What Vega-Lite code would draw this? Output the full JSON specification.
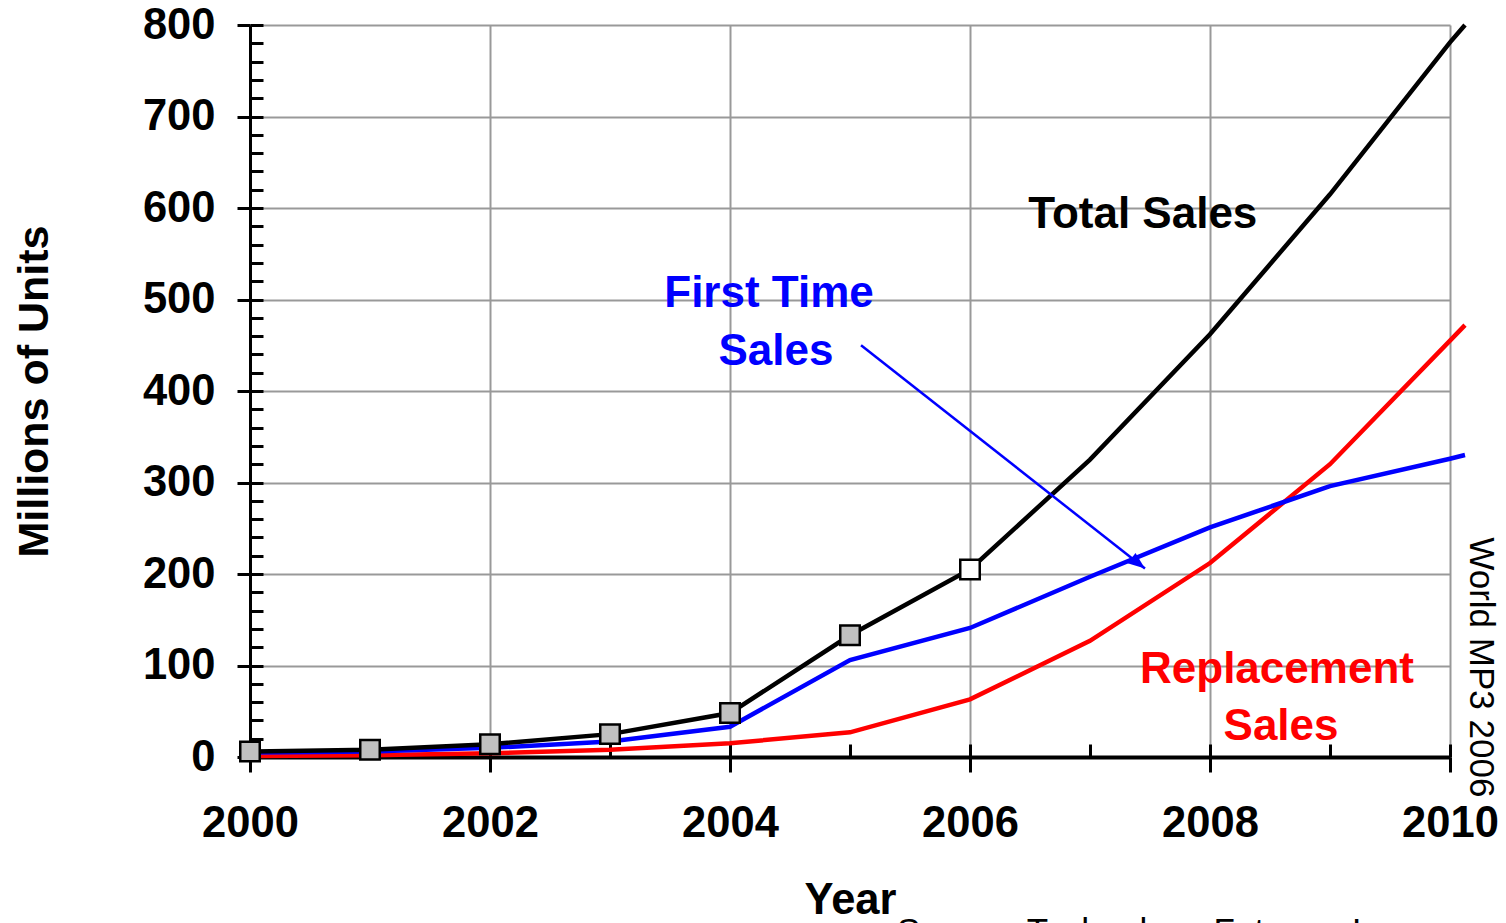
{
  "$schema": "https://vega.github.io/schema/vega-lite/v6.json",
  "width": 1200,
  "height": 732,
  "autosize": {"type": "none"},
  "padding": {"left": 250, "top": 25, "right": 56, "bottom": 166},
  "background": "white",
  "config": {"font": "Liberation Sans", "view": {"stroke": null}},
  "datasets": {
    "sales": [
      {"year": 2000, "series": "Replacement Sales", "units": 1},
      {"year": 2001, "series": "Replacement Sales", "units": 2},
      {"year": 2002, "series": "Replacement Sales", "units": 4},
      {"year": 2003, "series": "Replacement Sales", "units": 8},
      {"year": 2004, "series": "Replacement Sales", "units": 15},
      {"year": 2005, "series": "Replacement Sales", "units": 27},
      {"year": 2006, "series": "Replacement Sales", "units": 63},
      {"year": 2007, "series": "Replacement Sales", "units": 127},
      {"year": 2008, "series": "Replacement Sales", "units": 212},
      {"year": 2009, "series": "Replacement Sales", "units": 320},
      {"year": 2010, "series": "Replacement Sales", "units": 455},
      {"year": 2010.125, "series": "Replacement Sales", "units": 472},
      {"year": 2000, "series": "First Time Sales", "units": 5},
      {"year": 2001, "series": "First Time Sales", "units": 6},
      {"year": 2002, "series": "First Time Sales", "units": 10},
      {"year": 2003, "series": "First Time Sales", "units": 17},
      {"year": 2004, "series": "First Time Sales", "units": 33},
      {"year": 2005, "series": "First Time Sales", "units": 106},
      {"year": 2006, "series": "First Time Sales", "units": 141},
      {"year": 2007, "series": "First Time Sales", "units": 197},
      {"year": 2008, "series": "First Time Sales", "units": 251},
      {"year": 2009, "series": "First Time Sales", "units": 296},
      {"year": 2010, "series": "First Time Sales", "units": 326},
      {"year": 2010.125, "series": "First Time Sales", "units": 330},
      {"year": 2000, "series": "Total Sales", "units": 6},
      {"year": 2001, "series": "Total Sales", "units": 8},
      {"year": 2002, "series": "Total Sales", "units": 14},
      {"year": 2003, "series": "Total Sales", "units": 25},
      {"year": 2004, "series": "Total Sales", "units": 48},
      {"year": 2005, "series": "Total Sales", "units": 133},
      {"year": 2006, "series": "Total Sales", "units": 205},
      {"year": 2007, "series": "Total Sales", "units": 325},
      {"year": 2008, "series": "Total Sales", "units": 462},
      {"year": 2009, "series": "Total Sales", "units": 615},
      {"year": 2010, "series": "Total Sales", "units": 781},
      {"year": 2010.125, "series": "Total Sales", "units": 800}
    ],
    "markers": [
      {"year": 2000, "units": 6, "status": "actual"},
      {"year": 2001, "units": 8, "status": "actual"},
      {"year": 2002, "units": 14, "status": "actual"},
      {"year": 2003, "units": 25, "status": "actual"},
      {"year": 2004, "units": 48, "status": "actual"},
      {"year": 2005, "units": 133, "status": "actual"},
      {"year": 2006, "units": 205, "status": "current"}
    ],
    "seriesLabels": [
      {"year": 2007.44, "units": 578, "text": "Total Sales", "series": "Total Sales"},
      {"year": 2004.325, "units": 492, "text": "First Time", "series": "First Time Sales"},
      {"year": 2004.383, "units": 428, "text": "Sales", "series": "First Time Sales"},
      {"year": 2008.558, "units": 81, "text": "Replacement", "series": "Replacement Sales"},
      {"year": 2008.592, "units": 19, "text": "Sales", "series": "Replacement Sales"}
    ],
    "arrow": [
      {"year": 2005.092, "units": 450, "year2": 2007.458, "units2": 206}
    ],
    "note": [
      {"year": 2010.258, "units": 98, "text": "World MP3 2006"}
    ],
    "source": [
      {"year": 2005.392, "units": -203, "text": "Source: Technology Futures, Inc."}
    ]
  },
  "layer": [
    {
      "data": {"name": "sales"},
      "mark": {"type": "line", "strokeWidth": 4.5, "clip": false},
      "encoding": {
        "x": {
          "field": "year", "type": "quantitative",
          "scale": {"domain": [2000, 2010], "nice": false, "zero": false},
          "axis": {
            "orient": "bottom",
            "values": [2000, 2002, 2004, 2006, 2008, 2010],
            "format": "d",
            "tickSize": 15, "tickWidth": 3, "tickColor": "black",
            "domainColor": "black", "domainWidth": 4,
            "grid": true, "gridColor": "#999999", "gridWidth": 2,
            "labelFont": "Liberation Sans", "labelFontSize": 43.5, "labelFontWeight": "bold",
            "labelColor": "black", "labelPadding": 30, "labelFlush": false, "labelOverlap": false,
            "title": "Year", "titleFont": "Liberation Sans", "titleFontSize": 43.5,
            "titleFontWeight": "bold", "titleColor": "black", "titlePadding": 35
          }
        },
        "y": {
          "field": "units", "type": "quantitative",
          "scale": {"domain": [0, 800], "nice": false},
          "axis": {
            "orient": "left",
            "values": [0, 100, 200, 300, 400, 500, 600, 700, 800],
            "tickSize": 13, "tickWidth": 3, "tickColor": "black",
            "domainColor": "black", "domainWidth": 3,
            "grid": true, "gridColor": "#999999", "gridWidth": 2,
            "labelFont": "Liberation Sans", "labelFontSize": 43.5, "labelFontWeight": "bold",
            "labelColor": "black", "labelPadding": 22, "labelFlush": false, "labelOverlap": false,
            "title": "Millions of Units", "titleFont": "Liberation Sans", "titleFontSize": 43,
            "titleFontWeight": "bold", "titleColor": "black", "titlePadding": 86
          }
        },
        "color": {
          "field": "series", "type": "nominal",
          "scale": {"domain": ["Replacement Sales", "First Time Sales", "Total Sales"], "range": ["#FF0000", "#0000FF", "#000000"]},
          "legend": null
        }
      }
    },
    {
      "data": {"name": "markers"},
      "mark": {"type": "point", "shape": "square", "filled": true, "size": 380, "stroke": "black", "strokeWidth": 2.5, "opacity": 1},
      "encoding": {
        "x": {
          "field": "year", "type": "quantitative",
          "scale": {"domain": [2000, 2010], "nice": false, "zero": false},
          "axis": {
            "orient": "top", "offset": -732,
            "values": [2000, 2001, 2002, 2003, 2004, 2005, 2006, 2007, 2008, 2009, 2010],
            "tickSize": 13, "tickWidth": 3, "tickColor": "black",
            "domain": false, "grid": false, "labels": false, "title": null
          }
        },
        "y": {
          "field": "units", "type": "quantitative",
          "scale": {"domain": [0, 800], "nice": false},
          "axis": {
            "orient": "right", "offset": -1200,
            "values": [0, 20, 40, 60, 80, 100, 120, 140, 160, 180, 200, 220, 240, 260, 280, 300, 320, 340, 360, 380, 400, 420, 440, 460, 480, 500, 520, 540, 560, 580, 600, 620, 640, 660, 680, 700, 720, 740, 760, 780, 800],
            "tickSize": 13, "tickWidth": 3, "tickColor": "black",
            "domain": false, "grid": false, "labels": false, "title": null
          }
        },
        "fill": {
          "field": "status", "type": "nominal",
          "scale": {"domain": ["actual", "current"], "range": ["#C0C0C0", "#FFFFFF"]},
          "legend": null
        }
      }
    },
    {
      "data": {"name": "arrow"},
      "mark": {"type": "rule", "color": "#0000FF", "strokeWidth": 2.5},
      "encoding": {
        "x": {"field": "year", "type": "quantitative", "scale": {"domain": [2000, 2010], "nice": false, "zero": false}, "axis": null},
        "y": {"field": "units", "type": "quantitative", "scale": {"domain": [0, 800], "nice": false}, "axis": null},
        "x2": {"field": "year2"},
        "y2": {"field": "units2"}
      }
    },
    {
      "data": {"name": "arrow"},
      "mark": {"type": "point", "shape": "M0,0L-1,-0.38L-1,0.38Z", "filled": true, "color": "#0000FF", "size": 1156, "angle": 38, "opacity": 1},
      "encoding": {
        "x": {"field": "year2", "type": "quantitative", "scale": {"domain": [2000, 2010], "nice": false, "zero": false}, "axis": null},
        "y": {"field": "units2", "type": "quantitative", "scale": {"domain": [0, 800], "nice": false}, "axis": null}
      }
    },
    {
      "data": {"name": "seriesLabels"},
      "mark": {"type": "text", "font": "Liberation Sans", "fontSize": 44, "fontWeight": "bold", "align": "center", "baseline": "alphabetic"},
      "encoding": {
        "x": {"field": "year", "type": "quantitative", "scale": {"domain": [2000, 2010], "nice": false, "zero": false}, "axis": null},
        "y": {"field": "units", "type": "quantitative", "scale": {"domain": [0, 800], "nice": false}, "axis": null},
        "text": {"field": "text"},
        "color": {
          "field": "series", "type": "nominal",
          "scale": {"domain": ["Replacement Sales", "First Time Sales", "Total Sales"], "range": ["#FF0000", "#0000FF", "#000000"]},
          "legend": null
        }
      }
    },
    {
      "data": {"name": "note"},
      "mark": {"type": "text", "font": "Liberation Sans", "fontSize": 35, "fontWeight": "normal", "align": "center", "baseline": "middle", "angle": 90, "color": "black"},
      "encoding": {
        "x": {"field": "year", "type": "quantitative", "scale": {"domain": [2000, 2010], "nice": false, "zero": false}, "axis": null},
        "y": {"field": "units", "type": "quantitative", "scale": {"domain": [0, 800], "nice": false}, "axis": null},
        "text": {"field": "text"}
      }
    },
    {
      "data": {"name": "source"},
      "mark": {"type": "text", "font": "Liberation Sans", "fontSize": 35, "fontWeight": "normal", "align": "left", "baseline": "alphabetic", "color": "black"},
      "encoding": {
        "x": {"field": "year", "type": "quantitative", "scale": {"domain": [2000, 2010], "nice": false, "zero": false}, "axis": null},
        "y": {"field": "units", "type": "quantitative", "scale": {"domain": [0, 800], "nice": false}, "axis": null},
        "text": {"field": "text"}
      }
    }
  ],
  "resolve": {"scale": {"x": "shared", "y": "shared"}, "axis": {"x": "independent", "y": "independent"}}
}
